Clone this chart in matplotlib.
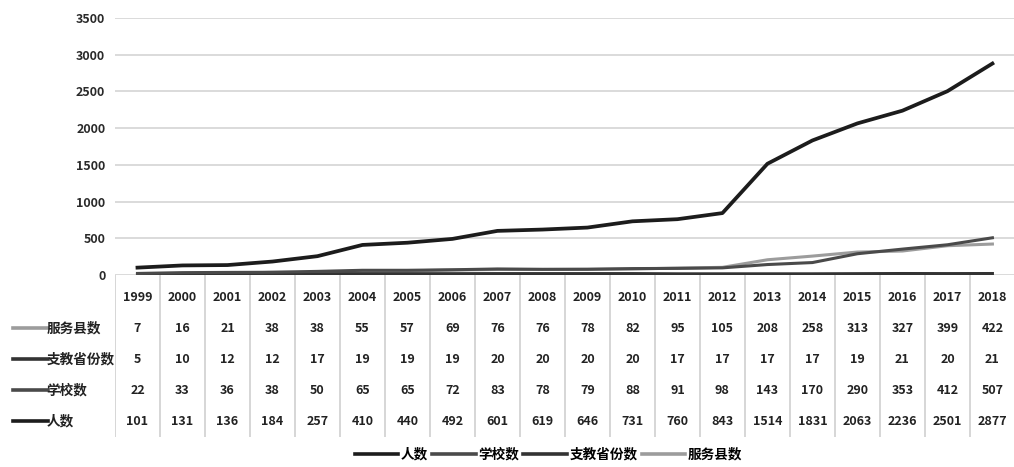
import matplotlib
matplotlib.use('Agg')
import matplotlib.pyplot as plt
from matplotlib.lines import Line2D
from matplotlib.transforms import blended_transform_factory

plt.rcParams['font.family'] = ['Noto Sans CJK SC', 'DejaVu Sans']

years = [1999, 2000, 2001, 2002, 2003, 2004, 2005, 2006, 2007, 2008,
         2009, 2010, 2011, 2012, 2013, 2014, 2015, 2016, 2017, 2018]
people = [101, 131, 136, 184, 257, 410, 440, 492, 601, 619,
          646, 731, 760, 843, 1514, 1831, 2063, 2236, 2501, 2877]
schools = [22, 33, 36, 38, 50, 65, 65, 72, 83, 78,
           79, 88, 91, 98, 143, 170, 290, 353, 412, 507]
provinces = [5, 10, 12, 12, 17, 19, 19, 19, 20, 20,
             20, 20, 17, 17, 17, 17, 19, 21, 20, 21]
counties = [7, 16, 21, 38, 38, 55, 57, 69, 76, 76,
            78, 82, 95, 105, 208, 258, 313, 327, 399, 422]

names = ['人数', '学校数', '支教省份数', '服务县数']
series = [people, schools, provinces, counties]
colors = ['#1c1c1c', '#4a4a4a', '#333333', '#9c9c9c']
widths = [2.7, 2.2, 2.2, 2.2]

fig = plt.figure(figsize=(10.14, 4.67), dpi=100)
ax = fig.add_axes([0.1134, 0.411, 0.8875, 0.551])
x = list(range(len(years)))

# draw bottom series first so 人数 stays on top
for i in [3, 2, 1, 0]:
    ax.plot(x, series[i], color=colors[i], linewidth=widths[i], zorder=3 + (3 - i))

ax.set_xlim(-0.5, len(years) - 0.5)
ax.set_ylim(0, 3500)
ax.set_yticks(range(0, 3501, 500))
ax.yaxis.grid(True, color='#d4d4d4', linewidth=1.2)
ax.set_axisbelow(True)
ax.set_xticks([])
ax.tick_params(axis='y', length=0, pad=7, labelsize=9, labelcolor='#2a2a2a')
for lab in ax.get_yticklabels():
    lab.set_fontweight('bold')
for s in ax.spines.values():
    s.set_visible(False)

# data table below the chart
tab = fig.add_axes([0.1134, 0.064, 0.8875, 0.347])
tab.set_xlim(-0.5, len(years) - 0.5)
tab.set_ylim(5.23, 0)
tab.axis('off')
tab.vlines([k - 0.5 for k in range(len(years) + 1)], 0, 5.23,
           color='#d0d0d0', linewidth=1.2)

rows = [('服务县数', counties, colors[3]),
        ('支教省份数', provinces, colors[2]),
        ('学校数', schools, colors[1]),
        ('人数', people, colors[0])]

for j, yr in enumerate(years):
    tab.text(j, 0.71, str(yr), ha='center', va='center', fontsize=9,
             fontweight='bold', color='#222222')

trans = blended_transform_factory(fig.transFigure, tab.transData)
for r, (label, vals, col) in enumerate(rows):
    yy = 1.71 + r
    for j, v in enumerate(vals):
        tab.text(j, yy, str(v), ha='center', va='center', fontsize=9,
                 fontweight='bold', color='#222222')
    fig.add_artist(Line2D([0.013, 0.047], [yy, yy], transform=trans,
                          color=col, linewidth=2.6))
    fig.text(0.046, yy, label, transform=trans, ha='left', va='center',
             fontsize=9.8, fontweight='bold', color='#222222')

handles = [Line2D([], [], color=c, linewidth=2.6) for c in colors]
leg = fig.legend(handles, names, loc='center', bbox_to_anchor=(0.541, 0.027),
                 ncol=4, frameon=False, handlelength=3.2, handletextpad=0.2,
                 columnspacing=0.3, prop={'size': 9.8, 'weight': 'bold'})

fig.savefig('out.png', dpi=100)
